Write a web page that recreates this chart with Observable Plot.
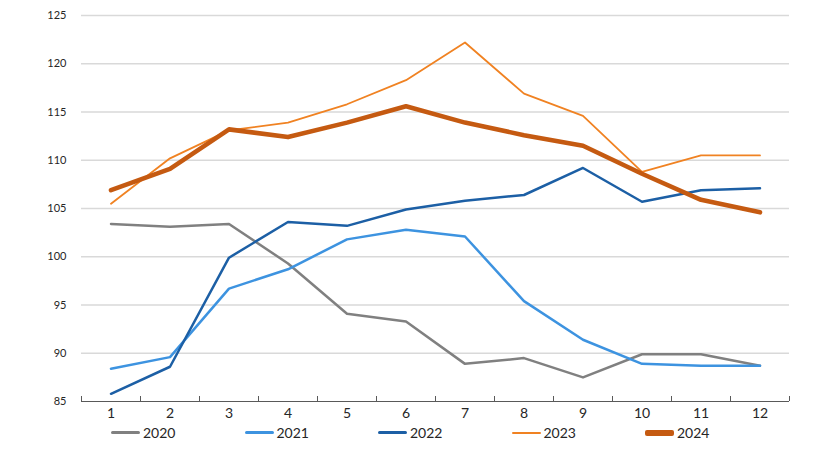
<!DOCTYPE html>
<html>
<head>
<meta charset="utf-8">
<script src="https://cdn.jsdelivr.net/npm/d3@7"></script>
<script src="https://cdn.jsdelivr.net/npm/@observablehq/plot@0.6"></script>
<style>
  html, body { margin: 0; padding: 0; background: #fff; }
  #wrap { position: relative; width: 820px; height: 451px; font-family: Lato, "Open Sans", sans-serif; }
  #legend { position: absolute; left: 111px; top: 424px; display: flex; font-size: 14px; color: #262626; }
  .item { width: 133.5px; display: flex; align-items: center; }
  .sw { width: 29px; border-radius: 2px; margin-right: 3px; }
</style>
</head>
<body>
<div id="wrap"><div id="chart"></div><div id="legend"></div></div>
<script>
const months = [1, 2, 3, 4, 5, 6, 7, 8, 9, 10, 11, 12];
const yTicks = [85, 90, 95, 100, 105, 110, 115, 120, 125];
const years = ["2020", "2021", "2022", "2023", "2024"];
const v2020 = [103.4, 103.1, 103.4, 99.3, 94.1, 93.3, 88.9, 89.5, 87.5, 89.9, 89.9, 88.7];
const v2021 = [88.4, 89.6, 96.7, 98.7, 101.8, 102.8, 102.1, 95.4, 91.4, 88.9, 88.7, 88.7];
const v2022 = [85.8, 88.6, 99.9, 103.6, 103.2, 104.9, 105.8, 106.4, 109.2, 105.7, 106.9, 107.1];
const v2023 = [105.5, 110.2, 113.1, 113.9, 115.8, 118.3, 122.2, 116.9, 114.6, 108.8, 110.5, 110.5];
const v2024 = [106.9, 109.1, 113.2, 112.4, 113.9, 115.6, 113.9, 112.6, 111.5, 108.6, 105.9, 104.6];
const colors = ["#808080", "#3d93e0", "#1c5fa5", "#f08222", "#c55a11"];
const widths = [2.5, 2.5, 2.5, 1.8, 4.6];
const series = [v2020, v2021, v2022, v2023, v2024];

const rows = (vals) => vals.map((v, i) => ({month: months[i], value: v}));
const bounds = months.map(m => m - 0.5).concat([months[months.length - 1] + 0.5]);

const chart = Plot.plot({
  width: 820,
  height: 422,
  marginLeft: 81,
  marginRight: 31,
  marginTop: 15,
  marginBottom: 21,
  style: {fontFamily: "Lato, 'Open Sans', sans-serif", color: "#262626", background: "#fff"},
  x: {domain: [bounds[0], bounds[bounds.length - 1]]},
  y: {domain: [yTicks[0], yTicks[yTicks.length - 1]]},
  marks: [
    Plot.gridY(yTicks.slice(1), {stroke: "#d9d9d9", strokeOpacity: 1, strokeWidth: 1.3}),
    Plot.axisY({ticks: yTicks, tickSize: 0, tickPadding: 15, fontSize: 11, label: null}),
    Plot.ruleY([yTicks[0]], {stroke: "#595959", strokeWidth: 1.2}),
    Plot.axisX({ticks: bounds, tickSize: -5, tickFormat: () => "", stroke: "#595959", label: null}),
    Plot.axisX({ticks: months, tickSize: 0, tickPadding: 7, fontSize: 14, label: null}),
    ...series.map((s, k) => Plot.line(rows(s), {x: "month", y: "value", stroke: colors[k], strokeWidth: widths[k], strokeLinejoin: "round", strokeLinecap: "round"}))
  ]
});
document.getElementById("chart").appendChild(chart);

const legend = document.getElementById("legend");
years.forEach((y, k) => {
  const it = document.createElement("div");
  it.className = "item";
  const sw = document.createElement("div");
  sw.className = "sw";
  sw.style.height = Math.max(2, Math.round(widths[k] + (k === 4 ? 1 : 0.5))) + "px";
  sw.style.background = colors[k];
  const t = document.createElement("span");
  t.textContent = y;
  it.appendChild(sw); it.appendChild(t);
  legend.appendChild(it);
});
</script>
</body>
</html>
